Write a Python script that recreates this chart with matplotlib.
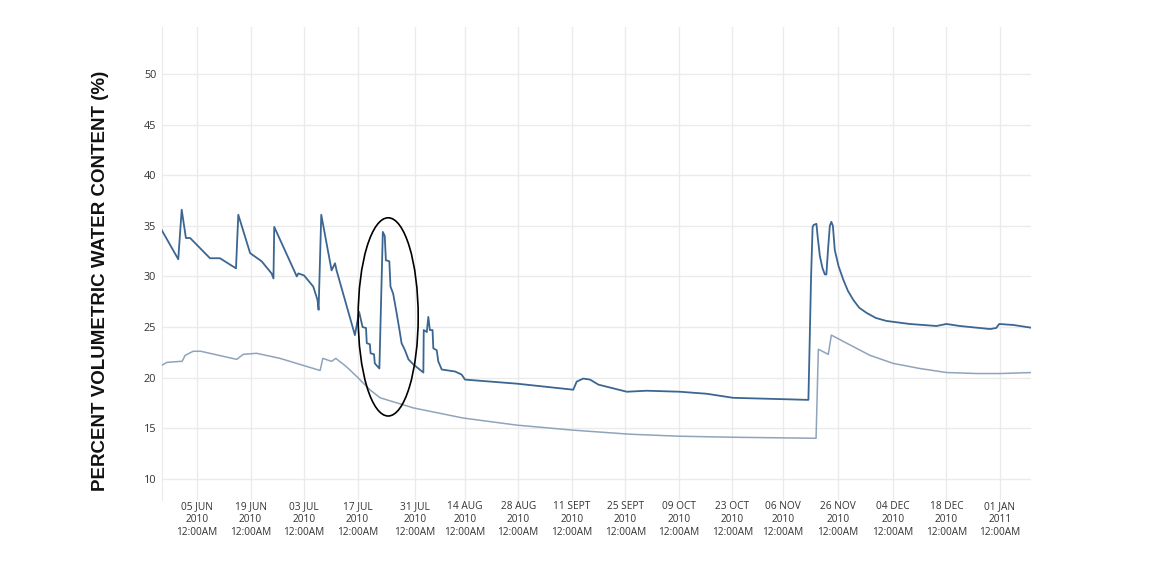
import matplotlib
matplotlib.use("Agg")
import matplotlib.pyplot as plt
from matplotlib.patches import Ellipse

# x values are days counted from 05 Jun 2010 12:00AM
dark_day = [-9.7, -4.9, -4.0, -2.9, -1.8, 3.4, 6.0, 10.2, 10.8, 13.9, 16.9, 19.5, 20.0, 20.2,
            26.1, 26.5, 28.0, 30.4, 31.5, 31.8, 32.5, 35.2, 36.1, 36.5, 41.3, 42.4, 43.3, 44.2,
            44.4, 45.2, 45.4, 46.3, 46.5, 47.7, 48.6, 49.1, 49.4, 50.3, 50.6, 51.3, 52.2, 53.0,
            53.5, 54.4, 55.3, 56.6, 59.2, 59.3, 60.1, 60.5, 60.9, 61.6, 61.8, 62.7, 63.1, 64.0,
            67.5, 69.2, 70.1, 83.6, 98.4, 99.3, 101.0, 102.8, 105.0, 112.4, 117.6, 126.3, 133.3,
            140.2, 159.4, 159.9, 160.6, 161.0, 161.3, 162.0, 162.3, 162.9, 163.6, 164.2, 164.6,
            165.0, 165.5, 165.9, 166.3, 166.8, 167.8, 169.0, 170.2, 171.6, 173.2, 175.1, 177.5,
            180.3, 186.4, 193.4, 196.0, 199.5, 207.4, 209.0, 209.8, 213.5, 218.7]
dark_val = [34.9, 31.7, 36.6, 33.8, 33.8, 31.8, 31.8, 30.8, 36.1, 32.3, 31.5, 30.3, 29.8, 34.9,
            30.0, 30.3, 30.1, 29.0, 27.7, 26.7, 36.1, 30.6, 31.3, 30.6, 24.2, 26.5, 25.0, 24.9,
            23.4, 23.3, 22.4, 22.3, 21.4, 20.9, 34.4, 34.0, 31.6, 31.5, 29.0, 28.3, 26.4, 24.6,
            23.4, 22.7, 21.8, 21.3, 20.5, 24.7, 24.5, 26.0, 24.7, 24.7, 22.9, 22.7, 21.6, 20.8,
            20.6, 20.3, 19.8, 19.4, 18.8, 19.6, 19.9, 19.8, 19.3, 18.6, 18.7, 18.6, 18.4,
            18.0, 17.8, 17.8, 30.0, 34.9, 35.1, 35.2, 34.0, 32.0, 30.8, 30.2, 30.2,
            32.5, 35.0, 35.4, 35.0, 32.6, 31.0, 29.7, 28.6, 27.7, 26.9, 26.4, 25.9,
            25.6, 25.3, 25.1, 25.3, 25.1, 24.8, 24.9, 25.3, 25.2, 24.9]

light_day = [-9.7, -7.9, -4.4, -3.9, -3.1, -1.0, 1.0, 10.4, 12.1, 15.6, 21.7, 32.2, 32.9, 35.2,
             36.3, 39.0, 41.8, 45.2, 47.9, 56.6, 69.6, 83.6, 98.4, 113.2, 126.3, 140.2, 161.6,
             161.9, 162.5, 165.1, 165.9, 169.9, 176.0, 182.1, 189.0, 196.0, 203.9, 210.0, 218.3]
light_val = [21.1, 21.5, 21.6, 21.6, 22.2, 22.6, 22.6, 21.8, 22.3, 22.4, 21.9, 20.7, 21.9, 21.6,
             21.9, 21.1, 20.1, 18.8, 18.0, 17.0, 16.0, 15.3, 14.8, 14.4, 14.2, 14.1, 14.0,
             14.0, 22.8, 22.3, 24.2, 23.4, 22.2, 21.4, 20.9, 20.5, 20.4, 20.4, 20.5]

tick_day = [0, 14, 28, 42, 57, 70, 84, 98, 112, 126, 140, 153.2, 167.6, 182, 196, 210]
tick_text = ["05 JUN\n2010", "19 JUN\n2010", "03 JUL\n2010", "17 JUL\n2010", "31 JUL\n2010",
             "14 AUG\n2010", "28 AUG\n2010", "11 SEPT\n2010", "25 SEPT\n2010", "09 OCT\n2010",
             "23 OCT\n2010", "06 NOV\n2010", "26 NOV\n2010", "04 DEC\n2010", "18 DEC\n2010",
             "01 JAN\n2011"]
y_ticks = [10, 15, 20, 25, 30, 35, 40, 45, 50]

grid_col = "#ebebeb"

fig = plt.figure(figsize=(11.55, 5.74), dpi=100)
ax = fig.add_axes([0.140, 0.129, 0.7526, 0.8246])

ax.plot(light_day, light_val, color="#8fa4bb", lw=1.1, zorder=3)
ax.plot(dark_day, dark_val, color="#3b6691", lw=1.3, zorder=4)

# circle around the July event
ax.add_patch(Ellipse((50.0, 26.0), 15.7, 19.6, fill=False, ec="black", lw=1.2, zorder=5))

ax.set_xlim(-9.23, 218.1)
ax.set_ylim(7.9, 54.7)
ax.set_xticks(tick_day)
ax.set_xticklabels([t + "\n12:00AM" for t in tick_text], fontsize=7.3,
                   family="Open Sans", color="#333333", linespacing=1.25)
ax.set_yticks(y_ticks)
ax.set_yticklabels([str(v) for v in y_ticks], fontsize=7.8, family="Open Sans", color="#333333")
ax.tick_params(axis="both", length=0)
ax.tick_params(axis="x", pad=1)
ax.tick_params(axis="y", pad=4)

ax.grid(True, color=grid_col, lw=1.0)
ax.set_axisbelow(True)
for side in ["top", "right", "bottom"]:
    ax.spines[side].set_visible(False)
ax.spines["left"].set_color(grid_col)

fig.text(101 / 1155, 1 - 281 / 574, "PERCENT VOLUMETRIC WATER CONTENT (%)", rotation=90,
         ha="center", va="center", fontsize=13.5, fontweight="bold", family="Liberation Sans",
         color="#111111")

fig.savefig("out.png", dpi=100, facecolor="white")
